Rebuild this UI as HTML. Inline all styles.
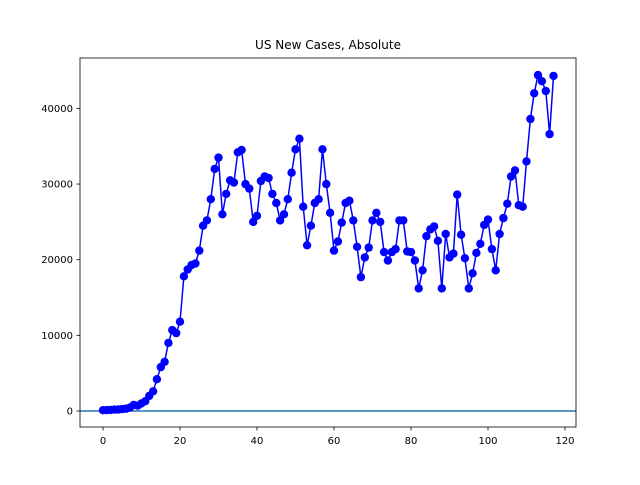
<!DOCTYPE html>
<html><head><meta charset="utf-8"><style>
body{margin:0;background:#fff;width:640px;height:480px;overflow:hidden}
text{font-family:"DejaVu Sans","Liberation Sans",sans-serif;font-size:10px;fill:#000}
</style></head><body>
<svg id="s" width="640" height="480" xmlns="http://www.w3.org/2000/svg">
<rect width="640" height="480" fill="#fff"/>
<text x="328" y="49" text-anchor="middle" style="font-size:12px">US New Cases, Absolute</text>
<g id="g"></g>
<rect x="80" y="58" width="496" height="369" fill="none" stroke="#000" stroke-width="0.8"/>
</svg>
<script>
var d=[100,120,150,180,200,250,300,450,800,700,1000,1300,2000,2600,4200,5800,6500,9000,10700,10300,11800,17800,18700,19300,19500,21200,24500,25200,28000,32000,33500,26000,28700,30500,30200,34200,34500,30000,29400,25000,25800,30400,31000,30800,28700,27500,25200,26000,28000,31500,34600,36000,27000,21900,24500,27500,28000,34600,30000,26200,21200,22400,24900,27500,27800,25200,21700,17700,20300,21600,25200,26200,25000,21000,19900,21000,21400,25200,25200,21100,21000,19900,16200,18600,23100,24000,24400,22500,16200,23400,20300,20800,28600,23300,20200,16200,18200,20900,22100,24600,25300,21400,18600,23400,25500,27400,31000,31800,27200,27000,33000,38600,42000,44400,43600,42300,36600,44300];
function X(v){return 103+v*3.85}function Y(v){return 411-v*0.007565}
var h='';
[0,20,40,60,80,100,120].forEach(function(t){var x=X(t);h+='<line x1="'+x+'" y1="427" x2="'+x+'" y2="430.5" stroke="#000" stroke-width="0.8"/><text x="'+x+'" y="444" text-anchor="middle">'+t+'</text>';});
[0,10000,20000,30000,40000].forEach(function(t){var y=Y(t);h+='<line x1="76.5" y1="'+y+'" x2="80" y2="'+y+'" stroke="#000" stroke-width="0.8"/><text x="73" y="'+(y+3.5)+'" text-anchor="end">'+t+'</text>';});
h+='<line x1="80" y1="'+Y(0)+'" x2="576" y2="'+Y(0)+'" stroke="#1f77b4" stroke-width="1.5"/>';
var p=d.map(function(v,i){return X(i).toFixed(1)+','+Y(v).toFixed(1)}).join(' ');
h+='<polyline points="'+p+'" fill="none" stroke="#0000ff" stroke-width="1.5"/>';
d.forEach(function(v,i){h+='<circle cx="'+X(i).toFixed(1)+'" cy="'+Y(v).toFixed(1)+'" r="4.2" fill="#0000ff"/>';});
document.getElementById('g').innerHTML=h;
</script>
</body></html>
